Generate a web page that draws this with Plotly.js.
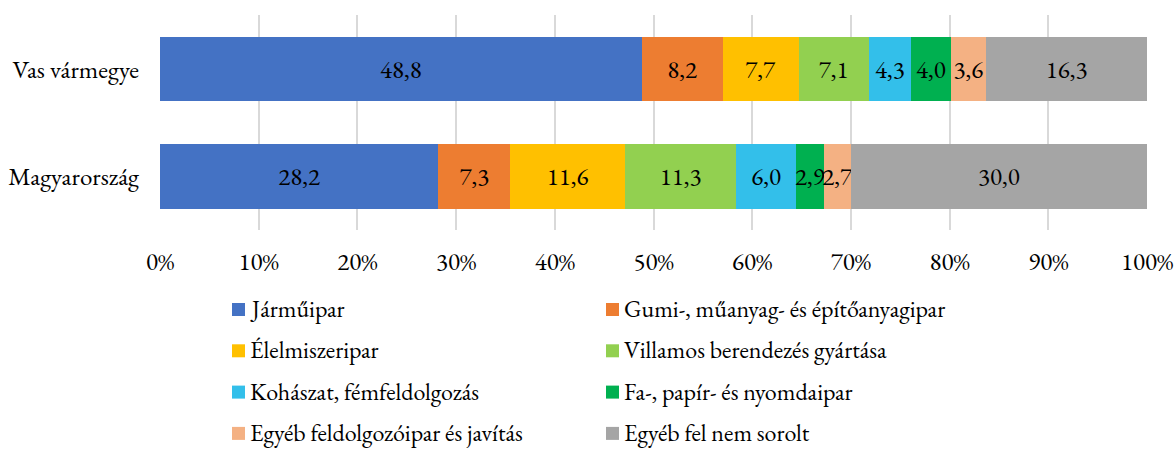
<!DOCTYPE html>
<html>
<head>
<meta charset="utf-8">
<script src="https://cdn.plot.ly/plotly-3.0.1.min.js"></script>
<style>body{margin:0;padding:0;background:#fff}#chart{width:1175px;height:450px}</style>
</head>
<body>
<div id="chart"></div>
<script>
const categories = ['Vas vármegye', 'Magyarország'];
const seriesNames = [
  'Járműipar',
  'Gumi-, műanyag- és építőanyagipar',
  'Élelmiszeripar',
  'Villamos berendezés gyártása',
  'Kohászat, fémfeldolgozás',
  'Fa-, papír- és nyomdaipar',
  'Egyéb feldolgozóipar és javítás',
  'Egyéb fel nem sorolt'
];
const vasValues = [48.8, 8.2, 7.7, 7.1, 4.3, 4.0, 3.6, 16.3];
const magyarValues = [28.2, 7.3, 11.6, 11.3, 6.0, 2.9, 2.7, 30.0];
const colors = ['#4472C4', '#ED7D31', '#FFC000', '#92D050', '#33BFEA', '#00B050', '#F4B183', '#A5A5A5'];
const tickVals = [0, 10, 20, 30, 40, 50, 60, 70, 80, 90, 100];
const tickLabels = ['0%', '10%', '20%', '30%', '40%', '50%', '60%', '70%', '80%', '90%', '100%'];

const FONT = 'EB Garamond, Garamond, Liberation Serif, serif';
const FS = 25;
const LFS = 24;
const W = 1175, H = 450;
const M = {l: 160, r: 28, t: 15, b: 220};
const plotW = W - M.l - M.r, plotH = H - M.t - M.b;
const px2x = px => (px - M.l) / plotW;
const py2y = py => (H - M.b - py) / plotH;

const traces = seriesNames.map((name, i) => {
  const vals = [vasValues[i], magyarValues[i]];
  return {
    type: 'bar',
    orientation: 'h',
    name: name,
    y: categories,
    x: vals,
    text: vals.map(v => v.toFixed(1).replace('.', ',')),
    textposition: 'inside',
    insidetextanchor: 'middle',
    textangle: 0,
    constraintext: 'none',
    textfont: {family: FONT, size: FS, color: '#000'},
    marker: {color: colors[i], line: {width: 0}},
    showlegend: false,
    hoverinfo: 'name+x'
  };
});

// Legend drawn as shapes + annotations (two columns, four rows)
const shapes = [];
const annotations = [];
const legX0 = 232, colStep = 374, rowY0 = 309.5, rowStep = 41.3, sq = 13;
seriesNames.forEach((name, i) => {
  const col = i % 2, row = Math.floor(i / 2);
  const cx = legX0 + col * colStep;
  const cy = rowY0 + row * rowStep;
  shapes.push({
    type: 'rect', xref: 'paper', yref: 'paper',
    x0: px2x(cx), x1: px2x(cx + sq),
    y0: py2y(cy - sq / 2), y1: py2y(cy + sq / 2),
    fillcolor: colors[i], line: {width: 0}
  });
  annotations.push({
    xref: 'paper', yref: 'paper',
    x: px2x(cx + sq + 3), y: py2y(cy - 1),
    xanchor: 'left', yanchor: 'middle',
    text: name, showarrow: false,
    font: {family: FONT, size: LFS, color: '#000'}
  });
});

const layout = {
  width: W,
  height: H,
  margin: Object.assign({autoexpand: false}, M),
  paper_bgcolor: '#fff',
  plot_bgcolor: '#fff',
  barmode: 'stack',
  bargap: 0.4,
  uniformtext: {mode: 'show', minsize: FS},
  xaxis: {
    range: [0, 100],
    tickvals: tickVals,
    ticktext: tickLabels,
    showgrid: true,
    gridcolor: '#D9D9D9',
    gridwidth: 2,
    zeroline: false,
    showline: false,
    ticks: '',
    ticklabelstandoff: 14,
    tickfont: {family: FONT, size: FS, color: '#000'},
    automargin: false,
    fixedrange: true
  },
  yaxis: {
    type: 'category',
    categoryorder: 'array',
    categoryarray: categories,
    autorange: 'reversed',
    showgrid: false,
    zeroline: false,
    showline: false,
    ticks: '',
    ticklabelstandoff: 20,
    tickfont: {family: FONT, size: FS, color: '#000'},
    automargin: false,
    fixedrange: true
  },
  showlegend: false,
  shapes: shapes,
  annotations: annotations
};

Plotly.newPlot('chart', traces, layout, {displayModeBar: false, staticPlot: true});
</script>
</body>
</html>
